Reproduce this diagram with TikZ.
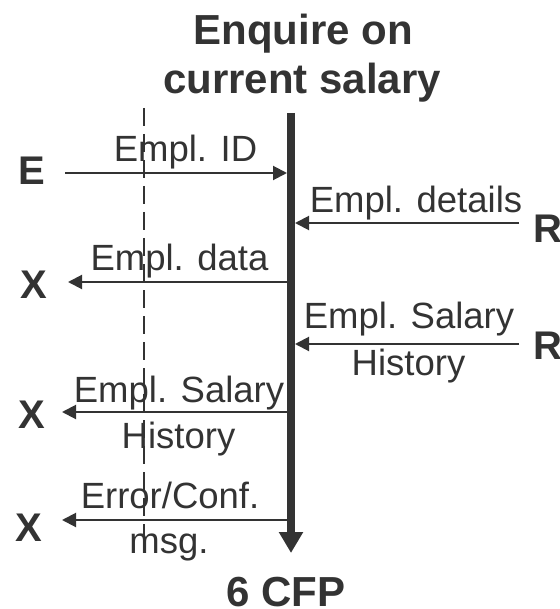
\documentclass[tikz,border=0pt]{standalone}
\usepackage{fontspec}
\setmainfont{Liberation Sans}
\usetikzlibrary{arrows.meta}
\definecolor{ink}{HTML}{333333}
\begin{document}
\begin{tikzpicture}[x=1pt,y=-1pt,
  lbl/.style={anchor=base,inner sep=0pt,text=ink,font=\fontsize{36.5}{40}\selectfont},
  ttl/.style={anchor=base,inner sep=0pt,text=ink,font=\fontsize{42}{46}\bfseries\selectfont},
  actor/.style={anchor=base west,inner sep=0pt,text=ink,font=\fontsize{40}{44}\bfseries\selectfont},
  msgarrow/.style={draw=ink,line width=2pt,-{Triangle[length=14pt,width=14pt]}},
  lifeline/.style={draw=ink,line width=8pt,-{Triangle[length=21pt,width=23pt]}},
  guide/.style={draw=ink,line width=2pt,dash pattern=on 18pt off 8pt}]
\useasboundingbox (0,0) rectangle (559,609);
% title
\node[ttl] (t1) at (303,45) {Enquire on};
\node[ttl] (t2) at (302,94) {current salary};
% lifeline
\coordinate (ltop) at (291,113);
\coordinate (lbot) at (291,553);
\draw[lifeline] (ltop) -- (lbot);
\node[ttl] (cfp) at (286,606) {6 CFP};
% dashed guide
\coordinate (gtop) at (144,108);
\coordinate (gbot) at (144,545);
\draw[guide] (gtop) -- (gbot);
% actors
\node[actor] (E) at (18,185) {E};
\node[actor] (X1) at (20,298) {X};
\node[actor] (X2) at (18,428) {X};
\node[actor] (X3) at (15,541) {X};
\node[actor] (R1) at (533,243) {R};
\node[actor] (R2) at (533,359) {R};
% arrow end points
\coordinate (eS) at (65,173);   \coordinate (eT) at (287,173);
\coordinate (r1S) at (519,223); \coordinate (r1T) at (295,223);
\coordinate (x1S) at (287,282); \coordinate (x1T) at (68,282);
\coordinate (r2S) at (519,344); \coordinate (r2T) at (295,344);
\coordinate (x2S) at (287,412); \coordinate (x2T) at (62,412);
\coordinate (x3S) at (287,520); \coordinate (x3T) at (62,520);
\draw[msgarrow] (eS) -- (eT);
\draw[msgarrow] (r1S) -- (r1T);
\draw[msgarrow] (x1S) -- (x1T);
\draw[msgarrow] (r2S) -- (r2T);
\draw[msgarrow] (x2S) -- (x2T);
\draw[msgarrow] (x3S) -- (x3T);
% labels
\node[lbl] (m1) at (185.5,162) {Empl. ID};
\node[lbl] (m2) at (416,213) {Empl. details};
\node[lbl] (m3) at (179.5,270) {Empl. data};
\node[lbl] (m4a) at (409,328) {Empl. Salary};
\node[lbl] (m4b) at (408.5,375) {History};
\node[lbl] (m5a) at (179,402) {Empl. Salary};
\node[lbl] (m5b) at (178.5,448) {History};
\node[lbl] (m6a) at (170,508) {Error/Conf.};
\node[lbl] (m6b) at (169,553) {msg.};
\end{tikzpicture}
\end{document}
